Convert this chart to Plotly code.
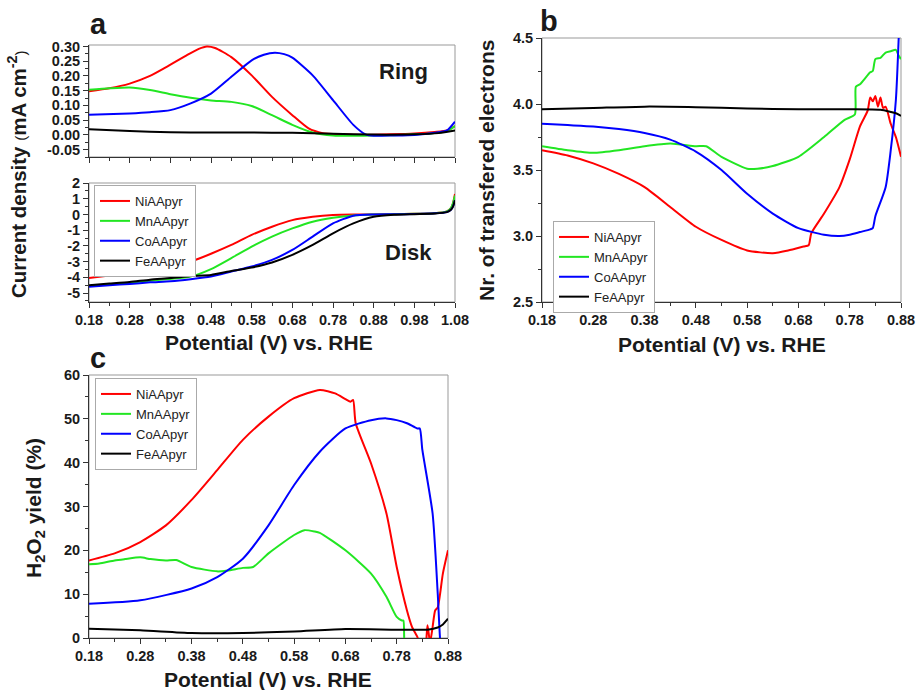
import plotly.graph_objects as go

NAMES = ["NiAApyr", "MnAApyr", "CoAApyr", "FeAApyr"]
COLORS = ["#FF0000", "#22E622", "#0000FF", "#000000"]

# ---- panel a: ring current ----
RING_X_NI = [0.18,0.23,0.28,0.33,0.37,0.42,0.45,0.47,0.49,0.53,0.58,0.63,0.68,0.72,0.755,0.80,0.86,0.92,0.98,1.03,1.06,1.08]
RING_NI = [0.148,0.158,0.174,0.2,0.23,0.27,0.292,0.30,0.295,0.264,0.202,0.129,0.067,0.022,0.006,0.002,0.0,0.002,0.005,0.01,0.015,0.03]
RING_X_MN = [0.18,0.23,0.28,0.33,0.38,0.43,0.48,0.53,0.58,0.63,0.68,0.73,0.78,0.83,0.88,0.93,0.98,1.03,1.06,1.08]
RING_MN = [0.153,0.158,0.161,0.152,0.138,0.126,0.117,0.112,0.098,0.067,0.034,0.008,-0.002,-0.003,-0.002,-0.001,0.002,0.006,0.012,0.03]
RING_X_CO = [0.18,0.28,0.33,0.38,0.43,0.48,0.53,0.58,0.61,0.637,0.66,0.68,0.73,0.78,0.83,0.86,0.88,0.93,0.98,1.03,1.06,1.08]
RING_CO = [0.068,0.073,0.077,0.084,0.107,0.14,0.197,0.253,0.272,0.279,0.274,0.262,0.202,0.118,0.034,0.002,-0.003,-0.002,0.0,0.007,0.015,0.045]
RING_X_FE = [0.18,0.28,0.38,0.48,0.58,0.68,0.78,0.88,0.98,1.04,1.08]
RING_FE = [0.019,0.013,0.009,0.008,0.008,0.007,0.004,0.001,0.002,0.006,0.015]

# ---- panel a: disk current ----
DISK_X = [0.18,0.23,0.28,0.33,0.38,0.43,0.48,0.53,0.58,0.63,0.68,0.73,0.78,0.83,0.88,0.93,0.98,1.03,1.06,1.07,1.075,1.08]
DISK_NI = [-4.05,-3.88,-3.7,-3.5,-3.3,-3.0,-2.5,-1.94,-1.3,-0.78,-0.36,-0.15,-0.03,0.0,0.0,0.02,0.04,0.08,0.2,0.4,0.7,1.3]
DISK_MN = [-4.55,-4.45,-4.35,-4.22,-4.1,-3.95,-3.48,-2.78,-2.05,-1.41,-0.89,-0.46,-0.21,-0.06,-0.01,0.01,0.04,0.08,0.2,0.4,0.7,1.2]
DISK_CO = [-4.6,-4.5,-4.42,-4.32,-4.25,-4.12,-3.95,-3.63,-3.31,-2.89,-2.26,-1.41,-0.57,-0.08,0.0,0.01,0.03,0.07,0.15,0.3,0.5,0.9]
DISK_FE = [-4.5,-4.4,-4.3,-4.15,-4.05,-3.92,-3.85,-3.6,-3.38,-3.06,-2.57,-1.94,-1.2,-0.57,-0.15,-0.02,0.02,0.06,0.15,0.3,0.5,0.9]

# ---- panel b: number of transferred electrons ----
N_X_NI = [0.18,0.23,0.28,0.33,0.38,0.43,0.48,0.53,0.58,0.63,0.66,0.69,0.70,0.705,0.73,0.76,0.78,0.80,0.815,0.82,0.825,0.83,0.835,0.84,0.845,0.85,0.86,0.87,0.88]
N_NI = [3.65,3.61,3.55,3.47,3.37,3.22,3.07,2.97,2.89,2.87,2.89,2.92,2.93,3.02,3.17,3.37,3.58,3.83,3.95,4.05,4.02,4.06,3.98,4.05,3.97,3.98,3.85,3.75,3.6]
N_X_MN = [0.18,0.23,0.28,0.33,0.38,0.43,0.48,0.50,0.53,0.58,0.60,0.63,0.68,0.73,0.77,0.79,0.792,0.80,0.82,0.825,0.83,0.84,0.85,0.86,0.87,0.875,0.88]
N_MN = [3.68,3.65,3.63,3.65,3.68,3.70,3.68,3.68,3.6,3.51,3.51,3.53,3.6,3.75,3.88,3.92,4.13,4.15,4.24,4.25,4.34,4.35,4.39,4.40,4.41,4.37,4.34]
N_X_CO = [0.18,0.23,0.28,0.33,0.38,0.43,0.48,0.53,0.58,0.63,0.68,0.73,0.76,0.78,0.80,0.82,0.825,0.83,0.85,0.86,0.87,0.876]
N_CO = [3.85,3.84,3.83,3.81,3.78,3.73,3.64,3.5,3.32,3.17,3.06,3.01,3.0,3.01,3.03,3.05,3.06,3.15,3.37,3.65,4.03,4.55]
N_X_FE = [0.18,0.28,0.38,0.48,0.58,0.68,0.78,0.84,0.86,0.87,0.88]
N_FE = [3.96,3.97,3.98,3.976,3.966,3.96,3.96,3.956,3.94,3.93,3.91]

# ---- panel c: H2O2 yield ----
H_X_NI = [0.18,0.23,0.28,0.33,0.38,0.43,0.48,0.53,0.58,0.63,0.66,0.68,0.69,0.695,0.70,0.73,0.76,0.78,0.80,0.81,0.82,0.83,0.835,0.84,0.845,0.85,0.855,0.86,0.87,0.88]
H_NI = [17.7,19.3,21.9,25.7,31.5,38.3,45.2,50.5,54.7,56.6,55.8,54.5,53.9,54.3,49.0,39.8,28.4,16.2,6.3,2.5,0.3,-3,-3,2.9,-1,2.5,6.3,7.0,14.7,20.0]
H_X_MN = [0.18,0.2,0.23,0.25,0.28,0.30,0.33,0.35,0.38,0.43,0.45,0.48,0.50,0.53,0.58,0.60,0.62,0.63,0.68,0.73,0.76,0.78,0.79,0.793,0.795,0.80]
H_MN = [16.8,17.0,17.7,18.0,18.4,18.0,17.7,17.8,16.2,15.2,15.4,16.0,16.2,19.3,23.5,24.6,24.3,24.0,20.0,14.7,9.4,4.8,4.0,4.0,-2,-5]
H_X_CO = [0.18,0.28,0.38,0.43,0.48,0.53,0.58,0.63,0.68,0.73,0.76,0.78,0.80,0.82,0.825,0.83,0.85,0.86,0.865,0.87]
H_CO = [7.8,8.6,11.3,13.9,18.1,25.7,34.9,42.5,47.8,49.7,50.1,49.7,49.0,47.8,47.8,42.9,28.4,10.1,-1,-5]
H_X_FE = [0.18,0.28,0.38,0.48,0.58,0.68,0.78,0.84,0.86,0.87,0.88]
H_FE = [2.1,1.75,1.14,1.14,1.5,2.06,1.9,1.9,2.4,3.1,4.4]

# ---- tick labels ----
XT_A = [0.18,0.28,0.38,0.48,0.58,0.68,0.78,0.88,0.98,1.08]
XT_A_TXT = ["0.18","0.28","0.38","0.48","0.58","0.68","0.78","0.88","0.98","1.08"]
XT_B = [0.18,0.28,0.38,0.48,0.58,0.68,0.78,0.88]
XT_B_TXT = ["0.18","0.28","0.38","0.48","0.58","0.68","0.78","0.88"]
YT_RING = [0.30,0.25,0.20,0.15,0.10,0.05,0.0,-0.05]
YT_RING_TXT = ["0.30","0.25","0.20","0.15","0.10","0.05","0.00","-0.05"]
YT_DISK = [2,1,0,-1,-2,-3,-4,-5]
YT_DISK_TXT = ["2","1","0","-1","-2","-3","-4","-5"]
YT_N = [2.5,3.0,3.5,4.0,4.5]
YT_N_TXT = ["2.5","3.0","3.5","4.0","4.5"]
YT_H = [0,10,20,30,40,50,60]
YT_H_TXT = ["0","10","20","30","40","50","60"]

W, H = 917, 690
def px(x): return x / W
def py(y): return 1 - y / H

fig = go.Figure()
ring = [(RING_X_NI, RING_NI), (RING_X_MN, RING_MN), (RING_X_CO, RING_CO), (RING_X_FE, RING_FE)]
disk = [DISK_NI, DISK_MN, DISK_CO, DISK_FE]
nel = [(N_X_NI, N_NI), (N_X_MN, N_MN), (N_X_CO, N_CO), (N_X_FE, N_FE)]
h2o2 = [(H_X_NI, H_NI), (H_X_MN, H_MN), (H_X_CO, H_CO), (H_X_FE, H_FE)]

def ln(i):
    return dict(color=COLORS[i], width=2, shape="spline", smoothing=0.6)

for i in range(4):
    fig.add_trace(go.Scatter(x=ring[i][0], y=ring[i][1], mode="lines", name=NAMES[i],
                             line=ln(i), xaxis="x", yaxis="y", showlegend=False))
for i in range(4):
    fig.add_trace(go.Scatter(x=DISK_X, y=disk[i], mode="lines", name=NAMES[i],
                             line=ln(i), xaxis="x2", yaxis="y2", legend="legend"))
for i in range(4):
    fig.add_trace(go.Scatter(x=nel[i][0], y=nel[i][1], mode="lines", name=NAMES[i],
                             line=ln(i), xaxis="x3", yaxis="y3", legend="legend2"))
for i in range(4):
    fig.add_trace(go.Scatter(x=h2o2[i][0], y=h2o2[i][1], mode="lines", name=NAMES[i],
                             line=ln(i), xaxis="x4", yaxis="y4", legend="legend3"))

TF = dict(family="Liberation Sans", size=14.5, color="#1a1a1a", weight="bold")

def xax(domain, anchor, vals, txt, rng, labels=True):
    return dict(domain=domain, anchor=anchor, range=rng, tickvals=vals,
                ticktext=txt, showticklabels=labels, automargin=False,
                ticks="outside", ticklen=5, tickwidth=1, tickcolor="#333",
                minor=dict(ticks="outside", ticklen=3, tick0=0.13, dtick=0.05, tickcolor="#333"),
                showline=True, linecolor="#333", linewidth=1, showgrid=False, zeroline=False,
                tickfont=TF, fixedrange=True)

def yax(domain, anchor, vals, txt, rng, mdt):
    return dict(domain=domain, anchor=anchor, range=rng, tickvals=vals, ticktext=txt,
                automargin=False,
                ticks="outside", ticklen=5, tickwidth=1, tickcolor="#333",
                minor=dict(ticks="outside", ticklen=3, dtick=mdt, tickcolor="#333"),
                showline=True, linecolor="#333", linewidth=1, showgrid=False, zeroline=False,
                tickfont=TF, fixedrange=True)

XA = [px(89), px(455)]
XB = [px(542), px(901)]
XC = [px(89), px(448)]

fig.update_layout(
    width=W, height=H, margin=dict(l=0, r=0, t=0, b=0, autoexpand=False),
    paper_bgcolor="white", plot_bgcolor="white",
    xaxis=xax(XA, "y", XT_A, XT_A_TXT, [0.18, 1.08], labels=False),
    yaxis=yax([py(157), py(45)], "x", YT_RING, YT_RING_TXT, [-0.075, 0.305], 0.025),
    xaxis2=xax(XA, "y2", XT_A, XT_A_TXT, [0.18, 1.08]),
    yaxis2=yax([py(302), py(183)], "x2", YT_DISK, YT_DISK_TXT, [-5.57, 2.0], 0.5),
    xaxis3=xax(XB, "y3", XT_B, XT_B_TXT, [0.18, 0.88]),
    yaxis3=yax([py(302), py(38)], "x3", YT_N, YT_N_TXT, [2.5, 4.5], 0.25),
    xaxis4=xax(XC, "y4", XT_B, XT_B_TXT, [0.18, 0.88]),
    yaxis4=yax([py(638), py(375)], "x4", YT_H, YT_H_TXT, [0, 60], 5),
)

LEGF = dict(family="Liberation Sans", size=13, color="#222")
def leg(x, y):
    return dict(x=px(x), y=py(y), xanchor="left", yanchor="top", xref="paper", yref="paper",
                font=LEGF, bordercolor="#aaaaaa", borderwidth=1, bgcolor="white",
                itemwidth=30, tracegroupgap=0)
fig.update_layout(legend=leg(94, 185), legend2=leg(553, 221), legend3=leg(95, 378))

# gray frame on top/right
for xr, yr in [("x", "y"), ("x2", "y2"), ("x3", "y3"), ("x4", "y4")]:
    fig.add_shape(type="rect", xref=xr + " domain", yref=yr + " domain", x0=0, x1=1, y0=0, y1=1,
                  line=dict(color="#999999", width=1), layer="below")

BOLD = dict(family="Liberation Sans", color="#1a1a1a", weight="bold")
def ann(text, x, y, size, angle=0, xanchor="center", yanchor="middle"):
    fig.add_annotation(text=text, x=px(x), y=py(y), xref="paper", yref="paper", showarrow=False,
                       textangle=angle, xanchor=xanchor, yanchor=yanchor, font=dict(size=size, **BOLD))

ann("a", 88, 24, 29, xanchor="left")
ann("b", 538, 21, 29, xanchor="left")
ann("c", 88, 358, 29, xanchor="left")
ann("Ring", 403, 72, 22)
ann("Disk", 408, 252, 22)
ann("Current density <span style='font-weight:normal;font-size:15px'>(</span>mA cm<sup>-2</sup><span style='font-weight:normal;font-size:15px'>)</span>", 17, 174, 20.5, angle=-90)
ann("Nr. of transfered electrons", 486, 170, 21, angle=-90)
ann("H<sub>2</sub>O<sub>2</sub> yield (%)", 35, 508, 21, angle=-90)
ann("Potential (V) vs. RHE", 269, 342, 21)
ann("Potential (V) vs. RHE", 722, 344, 21)
ann("Potential (V) vs. RHE", 268, 679, 21)

fig.write_html("out.html", config={"displayModeBar": False},
               post_script="document.body.style.margin='0';document.body.style.overflow='hidden';")
